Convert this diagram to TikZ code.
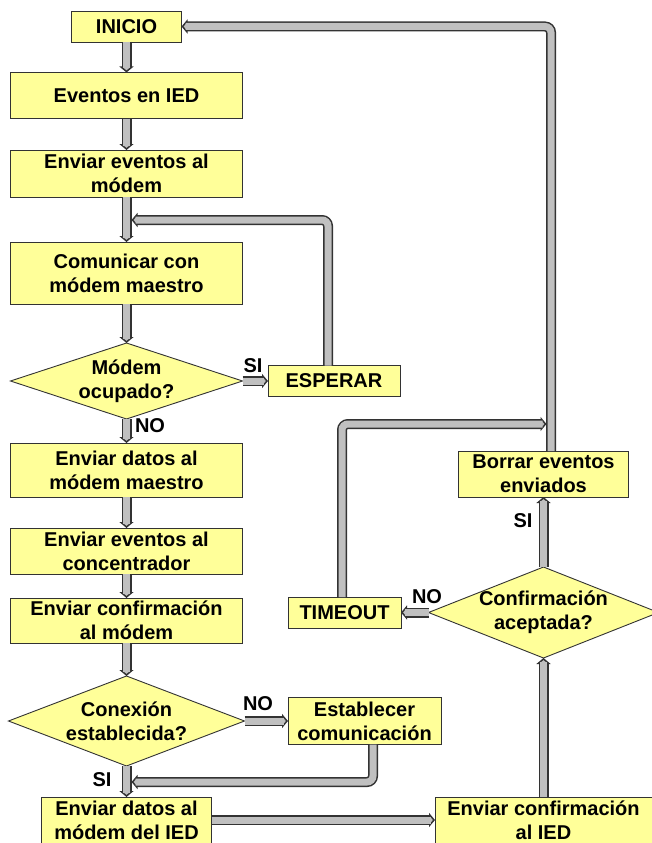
\documentclass[tikz,border=0pt]{standalone}
\usepackage{fontspec}
\setmainfont{Liberation Sans}
\usetikzlibrary{arrows.meta,shapes.geometric}
\definecolor{yel}{HTML}{FFFF99}
\definecolor{dk}{HTML}{333333}
\definecolor{fl}{HTML}{C0C0C0}
\begin{document}
\begin{tikzpicture}[x=1pt,y=-1pt,
  box/.style={draw=dk, fill=yel, line width=0.9pt, inner sep=0pt, outer sep=0pt, align=center,
    font=\fontsize{20}{24}\selectfont\bfseries},
  dia/.style={diamond, draw=dk, fill=yel, line width=0.9pt, inner sep=0pt, outer sep=0pt},
  txt/.style={align=center, inner sep=0pt, font=\fontsize{20}{24}\selectfont\bfseries},
  flow/.style={draw=fl, line width=7pt, shorten >=4pt, rounded corners=6pt,
    preaction={draw=dk, line width=10pt, shorten >=0pt,
      -{Triangle[width=14pt,length=6pt,line width=1.5pt,fill=fl]}}},
]
\useasboundingbox (0,0) rectangle (652,843);
\fill[white] (0,0) rectangle (652,843);

% left column
\node[box, minimum width=110pt, minimum height=31pt] (inicio) at (126.5,26.5) {INICIO};
\node[box, minimum width=232pt, minimum height=46pt] (ev) at (126.5,95.5) {Eventos en IED};
\node[box, minimum width=232pt, minimum height=47pt] (env) at (126.5,173.5) {Enviar eventos al\\módem};
\node[box, minimum width=232pt, minimum height=62pt] (com) at (126.5,273) {Comunicar con\\módem maestro};
\node[dia, minimum width=232pt, minimum height=76pt] (d1) at (126.5,381) {};
\node[txt] (d1t) at (d1) {Módem\\ocupado?};
\node[box, minimum width=132pt, minimum height=31pt] (esp) at (334,381) {ESPERAR};
\node[box, minimum width=232pt, minimum height=54pt] (dat) at (126.5,470) {Enviar datos al\\módem maestro};
\node[box, minimum width=232pt, minimum height=46pt] (con) at (126.5,551) {Enviar eventos al\\concentrador};
\node[box, minimum width=232pt, minimum height=45pt] (cnf) at (126.5,620.5) {Enviar confirmación\\al módem};
\node[dia, minimum width=236pt, minimum height=90pt] (d2) at (126.5,721) {};
\node[txt] (d2t) at (d2) {Conexión\\establecida?};
\node[box, minimum width=153pt, minimum height=47pt] (est) at (364.5,721) {Establecer\\comunicación};
\node[box, minimum width=170pt, minimum height=46pt] (dIED) at (126.5,820) {Enviar datos al\\módem del IED};

% right column
\node[box, minimum width=217pt, minimum height=46pt] (cIED) at (543.5,820) {Enviar confirmación\\al IED};
\node[dia, minimum width=230pt, minimum height=91pt] (d3) at (543.5,612.5) {};
\node[txt] (d3t) at (d3) {Confirmación\\aceptada?};
\node[box, minimum width=113pt, minimum height=31pt] (tim) at (344.5,612.5) {TIMEOUT};
\node[box, minimum width=170pt, minimum height=46pt] (bor) at (543.5,474) {Borrar eventos\\enviados};

% junction points
\coordinate (j1) at (131.5,220);
\coordinate (j2) at (131.5,782);
\coordinate (j3) at (546.5,424);

% main flow
\draw[flow] (inicio.south) -- (ev.north);
\draw[flow] (ev.south) -- (env.north);
\draw[flow] (env.south) -- (com.north);
\draw[flow] (com.south) -- (d1.north);
\draw[flow] (d1.east) -- (esp.west);
\draw[flow] (d1.south) -- (dat.north);
\draw[flow] (dat.south) -- (con.north);
\draw[flow] (con.south) -- (cnf.north);
\draw[flow] (cnf.south) -- (d2.north);
\draw[flow] (d2.east) -- (est.west);
\draw[flow] (d2.south) -- (dIED.north);
\draw[flow] (dIED.east) -- (cIED.west);
\draw[flow] (cIED.north) -- (d3.south);
\draw[flow] (d3.north) -- (bor.south);
\draw[flow] (d3.west) -- (tim.east);

% loops
\draw[flow] ([xshift=-6pt]esp.north) |- (j1);
\draw[flow] ([xshift=8.5pt]est.south) |- (j2);
\draw[flow] ([xshift=7.5pt]bor.north) |- (inicio.east);
\draw[flow] ([xshift=-2.5pt]tim.north) |- (j3);

% labels
\node[txt] (l1) at (253,366) {SI};
\node[txt] (l2) at (150,426) {NO};
\node[txt] (l3) at (258,704) {NO};
\node[txt] (l4) at (102,780) {SI};
\node[txt] (l5) at (427,597) {NO};
\node[txt] (l6) at (523,521) {SI};
\end{tikzpicture}
\end{document}
